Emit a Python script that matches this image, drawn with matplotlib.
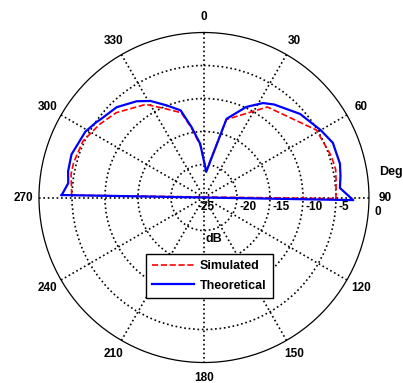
import numpy as np
import matplotlib.pyplot as plt

plt.rcParams.update({'font.family': 'Liberation Sans', 'font.weight': 'bold',
                     'font.size': 8.5})

# pattern cuts, angle in degrees (clockwise from top), gain in dB
theta_sim = [-89, -80, -75, -65, -55, -46, -32, -23, -15, -10, -4, 5,
             16, 35, 59, 72, 78, 83, 90.5]
db_sim = [-4.95, -4.55, -4.55, -4.77, -5.68, -6.5, -8.36, -10.42, -11.7,
          -14.4, -17.1, -20.9, -12.7, -8.26, -5.14, -4.71, -4.6, -4.83, -5.0]

theta_theo = [-89, -84, -79, -72, -61, -55, -53, -44, -35, -29, -22, -15,
              -10, -4, 5, 16, 25, 32, 37, 49, 60, 67, 76, 81, 86, 91]
db_theo = [-3.44, -4.32, -4.03, -3.89, -4.44, -5.09, -5.35, -5.97, -7.2,
           -8.27, -9.95, -11.33, -14.18, -16.85, -21.1, -12.6, -9.86, -8.12,
           -7.35, -5.7, -4.58, -3.79, -3.77, -4.06, -4.35, -2.38]

ring_db = [-20, -15, -10, -5]
angle_ticks = list(range(0, 360, 30))

fig = plt.figure(figsize=(4.03, 3.83), dpi=100)
ax = fig.add_axes([0.0955, 0.0535, 0.8213, 0.8616], projection='polar')
ax.set_theta_zero_location('N')
ax.set_theta_direction(-1)

# close each curve so the last point joins the first (chord through centre)
th = np.deg2rad(theta_sim + theta_sim[:1])
ax.plot(th, db_sim + db_sim[:1], 'r--', lw=1.2, label='Simulated')
th = np.deg2rad(theta_theo + theta_theo[:1])
ax.plot(th, db_theo + db_theo[:1], 'b-', lw=1.6, label='Theoretical')

ax.set_rlim(-25, 0)
ax.set_rgrids(ring_db, labels=['' for _ in ring_db])
ax.set_thetagrids(angle_ticks, labels=[str(a) for a in angle_ticks])
ax.grid(True, color='k', linestyle=':', linewidth=1.2)
ax.spines['polar'].set_color('k')
ax.spines['polar'].set_linewidth(0.9)
ax.tick_params(axis='x', pad=1)

for v in ring_db:
    ax.annotate(str(v), xy=(np.pi / 2, v), xytext=(2, -7),
                textcoords='offset points', ha='left', va='center')
ax.annotate('-25', xy=(0, -25), xytext=(1.5, -7), textcoords='offset points',
            ha='center', va='center')
ax.annotate('0', xy=(np.pi / 2, 0), xytext=(6.5, -10.5),
            textcoords='offset points', ha='center', va='center')
ax.annotate('Deg', xy=(np.pi / 2, 0), xytext=(15.5, 18.4),
            textcoords='offset points', ha='center', va='center', fontsize=9)
ax.annotate('dB', xy=(0, -25), xytext=(6.8, -29.9), textcoords='offset points',
            ha='center', va='center', fontsize=9)

leg = ax.legend(loc='upper left', bbox_to_anchor=(146 / 403, 1 - 254 / 383),
                bbox_transform=fig.transFigure, fontsize=9, fancybox=False,
                edgecolor='k', framealpha=1, handlelength=3.3,
                borderaxespad=0, borderpad=0.5, labelspacing=0.6,
                handletextpad=0.5)
leg.get_frame().set_linewidth(1)

plt.savefig('out.png', dpi=100)
